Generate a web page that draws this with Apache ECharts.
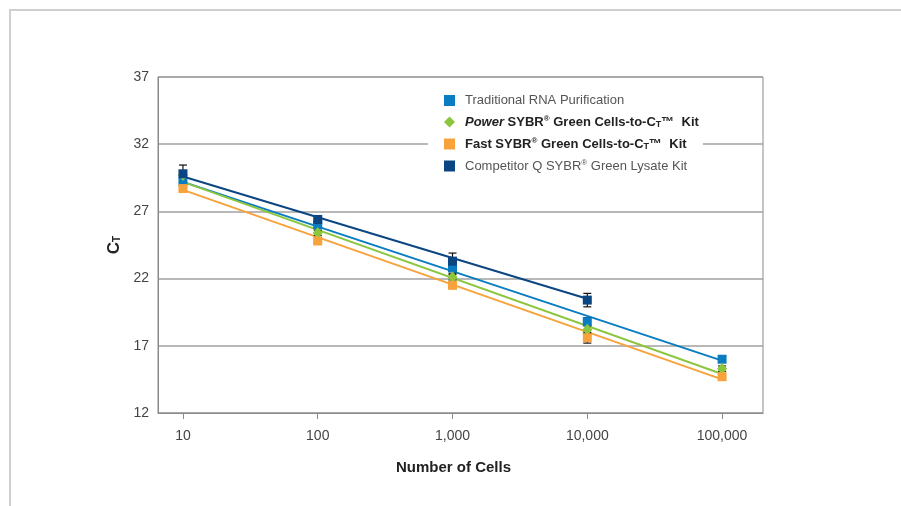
<!DOCTYPE html>
<html>
<head>
<meta charset="utf-8">
<script src="https://cdn.jsdelivr.net/npm/echarts@6/dist/echarts.min.js"></script>
<style>
html,body{margin:0;padding:0;background:#fff;}
#frame{position:absolute;left:9px;top:9px;width:892px;height:497px;border-top:2px solid #cfcfcf;border-left:2px solid #cfcfcf;box-sizing:border-box;}
#chart{position:absolute;left:0;top:0;width:901px;height:506px;}
</style>
</head>
<body>
<div id="frame"></div>
<div id="chart"></div>
<script>
// ---- data ----
const cells = [10, 100, 1000, 10000, 100000];
const xTickLabels = ['10', '100', '1,000', '10,000', '100,000'];
const yTicks = [12, 17, 22, 27, 32, 37];

const seriesNames = [
  'Traditional RNA Purification',
  'Power SYBR® Green Cells-to-CT™ Kit',
  'Fast SYBR® Green Cells-to-CT™ Kit',
  'Competitor Q SYBR® Green Lysate Kit'
];
const tradRNA    = [29.2, 26.0, 22.8, 18.8, 16.0];
const powerSybr  = [29.7, 25.4, 22.1, 18.2, 15.3];
const fastSybr   = [28.7, 24.8, 21.5, 17.6, 14.7];
const competitor = [29.8, 26.4, 23.3, 20.4, null];

const tradErr    = [0.2, 0.2, 0.4, 0.3, 0.2];
const powerErr   = [0.2, 0.2, 0.2, 0.3, 0.2];
const fastErr    = [0.2, 0.2, 0.2, 0.4, 0.2];
const compErr    = [0.65, 0.2, 0.6, 0.5, null];

// trend (fit) lines: [cells, Ct] at ends
const tradFitX = [10, 100000],  tradFit = [29.2, 15.9];
const powerFitX = [10, 100000], powerFit = [29.2, 14.9];
const fastFitX = [10, 100000],  fastFit = [28.6, 14.5];
const compFitX = [10, 10000],   compFit = [29.6, 20.5];

const colors = ['#0a7cc1', '#8cc63e', '#f7a23b', '#0b4683'];
// -------------------------------------

const lg = v => Math.log10(v);
const pts = (xs, ys) => xs.map((x, i) => ys[i] == null ? null : [lg(x), ys[i]]).filter(p => p);
const errPts = (xs, ys, es) => xs.map((x, i) => ys[i] == null || es[i] == null ? null : [lg(x), ys[i], es[i]]).filter(p => p);

const vals = [tradRNA, powerSybr, fastSybr, competitor];
const errs = [tradErr, powerErr, fastErr, compErr];
const fits = [[tradFitX, tradFit], [powerFitX, powerFit], [fastFitX, fastFit], [compFitX, compFit]];
const symbols = ['rect', 'diamond', 'rect', 'rect'];
const sizes = [9, [10, 12], 9, 9];

const series = [];
fits.forEach((f, i) => {
  series.push({
    type: 'line', name: 'fit' + i, data: pts(f[0], f[1]), showSymbol: false,
    lineStyle: { color: colors[i], width: 2 }, z: 2, silent: true
  });
});
errs.forEach((e, i) => {
  series.push({
    type: 'custom', name: 'err' + i, data: errPts(cells, vals[i], e), z: 3, silent: true,
    renderItem: function (params, api) {
      const x = api.value(0), y = api.value(1), er = api.value(2);
      const t = api.coord([x, y + er]), b = api.coord([x, y - er]);
      const w = 4;
      const st = { stroke: '#111', lineWidth: 1.2 };
      return { type: 'group', children: [
        { type: 'line', shape: { x1: t[0], y1: t[1], x2: b[0], y2: b[1] }, style: st },
        { type: 'line', shape: { x1: t[0] - w, y1: t[1], x2: t[0] + w, y2: t[1] }, style: st },
        { type: 'line', shape: { x1: b[0] - w, y1: b[1], x2: b[0] + w, y2: b[1] }, style: st }
      ]};
    }
  });
});
[0, 1, 2, 3].forEach(i => {
  series.push({
    type: 'scatter', name: seriesNames[i], data: pts(cells, vals[i]),
    symbol: symbols[i], symbolSize: sizes[i],
    itemStyle: { color: colors[i], opacity: 1 }, z: 4
  });
});

const legendFmt = {
  'Traditional RNA Purification': '{n|Traditional RNA Purification}',
  'Power SYBR® Green Cells-to-CT™ Kit': '{bi|Power}{b| SYBR}{sup|®}{b| Green Cells-to-C}{sc|T}{b|™  Kit}',
  'Fast SYBR® Green Cells-to-CT™ Kit': '{b|Fast SYBR}{sup|®}{b| Green Cells-to-C}{sc|T}{b|™  Kit}',
  'Competitor Q SYBR® Green Lysate Kit': '{n|Competitor Q SYBR}{supn|®}{n| Green Lysate Kit}'
};

const FONT = 'Liberation Sans, Arial, sans-serif';
const chart = echarts.init(document.getElementById('chart'), null, { renderer: 'canvas' });
chart.setOption({
  animation: false,
  textStyle: { fontFamily: FONT },
  grid: { left: 158, right: 138, top: 77, bottom: 93, show: true, borderColor: '#8a8a8a', borderWidth: 1, backgroundColor: 'transparent' },
  xAxis: {
    type: 'value', min: 0.8148, max: 5.3037,
    name: 'Number of Cells', nameLocation: 'middle', nameGap: 47,
    nameTextStyle: { fontSize: 15, fontWeight: 'bold', color: '#222', fontFamily: FONT, padding: [0, 14, 0, 0] },
    axisLine: { lineStyle: { color: '#8a8a8a', width: 1 } },
    axisTick: { show: true, inside: false, length: 6, lineStyle: { color: '#8a8a8a' }, customValues: cells.map(lg) },
    axisLabel: { color: '#444', fontSize: 14, margin: 16, customValues: cells.map(lg),
      formatter: v => { const i = cells.findIndex(c => Math.abs(lg(c) - v) < 1e-6); return i >= 0 ? xTickLabels[i] : ''; } },
    splitLine: { show: false }
  },
  yAxis: {
    type: 'value', min: yTicks[0], max: yTicks[yTicks.length - 1], interval: 5,
    name: '{c|C}{t|T}', nameLocation: 'middle', nameGap: 32, nameRotate: 90,
    nameTextStyle: { rich: {
      c: { fontSize: 17, fontWeight: 'bold', color: '#222', fontFamily: FONT },
      t: { fontSize: 10, fontWeight: 'bold', color: '#222', fontFamily: FONT, padding: [6, 0, 0, 0] }
    } },
    axisLine: { show: true, lineStyle: { color: '#8a8a8a', width: 1 } },
    axisTick: { show: false },
    axisLabel: { color: '#444', fontSize: 14, margin: 9, padding: [5, 0, 0, 0] },
    splitLine: { show: true, lineStyle: { color: '#a0a0a0', width: 1.5 } }
  },
  legend: {
    data: seriesNames.map((n, i) => ({ name: n, icon: symbols[i] === 'diamond' ? 'diamond' : 'rect' })),
    orient: 'vertical', left: 428, top: 88,
    backgroundColor: '#fff', padding: [6, 4, 6, 16],
    itemWidth: 11, itemHeight: 11, itemGap: 8,
    selectedMode: false,
    formatter: n => legendFmt[n],
    textStyle: {
      padding: [0, 0, 0, 5],
      rich: {
        n: { fontSize: 13, lineHeight: 14, color: '#555', fontFamily: FONT },
        supn: { fontSize: 8, lineHeight: 14, color: '#555', fontFamily: FONT, verticalAlign: 'top' },
        b: { fontSize: 13, lineHeight: 14, color: '#222', fontWeight: 'bold', fontFamily: FONT },
        bi: { fontSize: 13, lineHeight: 14, color: '#222', fontWeight: 'bold', fontStyle: 'italic', fontFamily: FONT },
        sup: { fontSize: 8, lineHeight: 14, color: '#222', fontWeight: 'bold', fontFamily: FONT, verticalAlign: 'top' },
        sc: { fontSize: 9, lineHeight: 14, color: '#222', fontWeight: 'bold', fontFamily: FONT, verticalAlign: 'bottom' }
      }
    }
  },
  series: series
});
</script>
</body>
</html>
